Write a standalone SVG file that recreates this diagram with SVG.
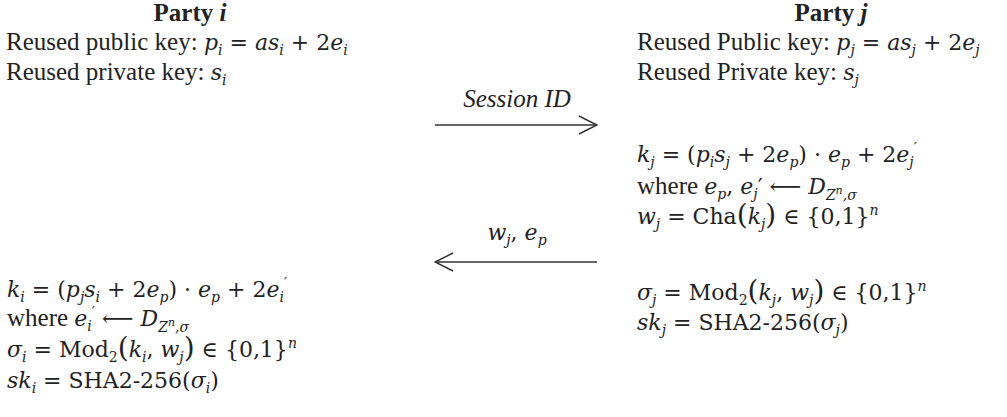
<svg xmlns="http://www.w3.org/2000/svg" width="1007" height="417" viewBox="0 0 1007 417">
<style>
text{font-family:"Liberation Serif","Times New Roman",serif;font-size:25px;fill:#222}
.b{font-weight:bold}
.ti{font-style:italic}
.m{font-family:"DejaVu Serif",serif;font-style:italic;font-size:22px}
.r{font-family:"DejaVu Serif",serif;font-size:22px}
.s{font-size:14px}
.ss{font-size:11px}
.big{font-size:28px}
.arrow{stroke:#333;stroke-width:1.5;fill:none}
</style>
<defs>
<marker id="open" viewBox="0 0 20 20" refX="19" refY="10" markerWidth="20" markerHeight="20" markerUnits="userSpaceOnUse" orient="auto">
<path d="M1,1 L19,10 L1,19" fill="none" stroke="#333" stroke-width="1.5"/>
</marker>
</defs>
<rect width="1007" height="417" fill="#fff"/>
<g id="party_i">
<text class="b" x="190" y="21" text-anchor="middle">Party <tspan class="ti">i</tspan></text>
<text x="6" y="50">Reused public key: <tspan class="m">p</tspan><tspan class="m s" dy="5">i</tspan><tspan class="r" dy="-5"> = </tspan><tspan class="m">as</tspan><tspan class="m s" dy="5">i</tspan><tspan class="r" dy="-5"> + 2</tspan><tspan class="m">e</tspan><tspan class="m s" dy="5">i</tspan></text>
<text x="6" y="80">Reused private key: <tspan class="m">s</tspan><tspan class="m s" dy="5">i</tspan></text>
<text x="7" y="297"><tspan class="m">k</tspan><tspan class="m s" dy="5">i</tspan><tspan class="r" dy="-5"> = (</tspan><tspan class="m">p</tspan><tspan class="m s" dy="5">j</tspan><tspan class="m" dy="-5">s</tspan><tspan class="m s" dy="5">i</tspan><tspan class="r" dy="-5"> + 2</tspan><tspan class="m">e</tspan><tspan class="m s" dy="5">p</tspan><tspan class="r" dy="-5">) · </tspan><tspan class="m">e</tspan><tspan class="m s" dy="5">p</tspan><tspan class="r" dy="-5"> + 2</tspan><tspan class="m">e</tspan><tspan class="m s" dy="5">i</tspan><tspan class="r s" dy="-14">′</tspan></text>
<text x="7" y="326">where <tspan class="m">e</tspan><tspan class="m s" dy="5">i</tspan><tspan class="r s" dy="-14">′</tspan><tspan class="r" dy="9"> ⟵ </tspan><tspan class="m">D</tspan><tspan class="m s" dy="6">Z</tspan><tspan class="m ss" dy="-6">n</tspan><tspan class="m s" dy="6">,σ</tspan></text>
<text x="7" y="357"><tspan class="m">σ</tspan><tspan class="m s" dy="5">i</tspan><tspan class="r" dy="-5"> = Mod</tspan><tspan class="r s" dy="5">2</tspan><tspan class="r big" dy="-5">(</tspan><tspan class="m">k</tspan><tspan class="m s" dy="5">i</tspan><tspan class="r" dy="-5">, </tspan><tspan class="m">w</tspan><tspan class="m s" dy="5">j</tspan><tspan class="r big" dy="-5">)</tspan><tspan class="r"> ∈ {0,1}</tspan><tspan class="m s" dy="-9">n</tspan></text>
<text x="7" y="388"><tspan class="m">sk</tspan><tspan class="m s" dy="5">i</tspan><tspan class="r" dy="-5"> = SHA2-256(</tspan><tspan class="m">σ</tspan><tspan class="m s" dy="5">i</tspan><tspan class="r" dy="-5">)</tspan></text>
</g>
<g id="party_j">
<text class="b" x="831" y="21" text-anchor="middle">Party <tspan class="ti">j</tspan></text>
<text x="637" y="50">Reused Public key: <tspan class="m">p</tspan><tspan class="m s" dy="5">j</tspan><tspan class="r" dy="-5"> = </tspan><tspan class="m">as</tspan><tspan class="m s" dy="5">j</tspan><tspan class="r" dy="-5"> + 2</tspan><tspan class="m">e</tspan><tspan class="m s" dy="5">j</tspan></text>
<text x="637" y="80">Reused Private key: <tspan class="m">s</tspan><tspan class="m s" dy="5">j</tspan></text>
<text x="637" y="162"><tspan class="m">k</tspan><tspan class="m s" dy="5">j</tspan><tspan class="r" dy="-5"> = (</tspan><tspan class="m">p</tspan><tspan class="m s" dy="5">i</tspan><tspan class="m" dy="-5">s</tspan><tspan class="m s" dy="5">j</tspan><tspan class="r" dy="-5"> + 2</tspan><tspan class="m">e</tspan><tspan class="m s" dy="5">p</tspan><tspan class="r" dy="-5">) · </tspan><tspan class="m">e</tspan><tspan class="m s" dy="5">p</tspan><tspan class="r" dy="-5"> + 2</tspan><tspan class="m">e</tspan><tspan class="m s" dy="5">j</tspan><tspan class="r s" dy="-14">′</tspan></text>
<text x="637" y="194">where <tspan class="m">e</tspan><tspan class="m s" dy="5">p</tspan><tspan class="r" dy="-5">, </tspan><tspan class="m">e</tspan><tspan class="m s" dy="5">j</tspan><tspan class="r" dy="-5">′ ⟵ </tspan><tspan class="m">D</tspan><tspan class="m s" dy="6">Z</tspan><tspan class="m ss" dy="-6">n</tspan><tspan class="m s" dy="6">,σ</tspan></text>
<text x="637" y="224"><tspan class="m">w</tspan><tspan class="m s" dy="5">j</tspan><tspan class="r" dy="-5"> = Cha</tspan><tspan class="r big">(</tspan><tspan class="m">k</tspan><tspan class="m s" dy="5">j</tspan><tspan class="r big" dy="-5">)</tspan><tspan class="r"> ∈ {0,1}</tspan><tspan class="m s" dy="-9">n</tspan></text>
<text x="637" y="300"><tspan class="m">σ</tspan><tspan class="m s" dy="5">j</tspan><tspan class="r" dy="-5"> = Mod</tspan><tspan class="r s" dy="5">2</tspan><tspan class="r big" dy="-5">(</tspan><tspan class="m">k</tspan><tspan class="m s" dy="5">j</tspan><tspan class="r" dy="-5">, </tspan><tspan class="m">w</tspan><tspan class="m s" dy="5">j</tspan><tspan class="r big" dy="-5">)</tspan><tspan class="r"> ∈ {0,1}</tspan><tspan class="m s" dy="-9">n</tspan></text>
<text x="637" y="330"><tspan class="m">sk</tspan><tspan class="m s" dy="5">j</tspan><tspan class="r" dy="-5"> = SHA2-256(</tspan><tspan class="m">σ</tspan><tspan class="m s" dy="5">j</tspan><tspan class="r" dy="-5">)</tspan></text>
</g>
<g id="connectors">
<line class="arrow" x1="435" y1="125" x2="597" y2="125" marker-end="url(#open)"/>
<text class="ti" x="517" y="107" text-anchor="middle">Session ID</text>
<line class="arrow" x1="597" y1="262" x2="435" y2="262" marker-end="url(#open)"/>
<text x="517" y="240" text-anchor="middle"><tspan class="m">w</tspan><tspan class="m s" dy="5">j</tspan><tspan class="r" dy="-5">, </tspan><tspan class="m">e</tspan><tspan class="m s" dy="5">p</tspan></text>
</g>
</svg>
